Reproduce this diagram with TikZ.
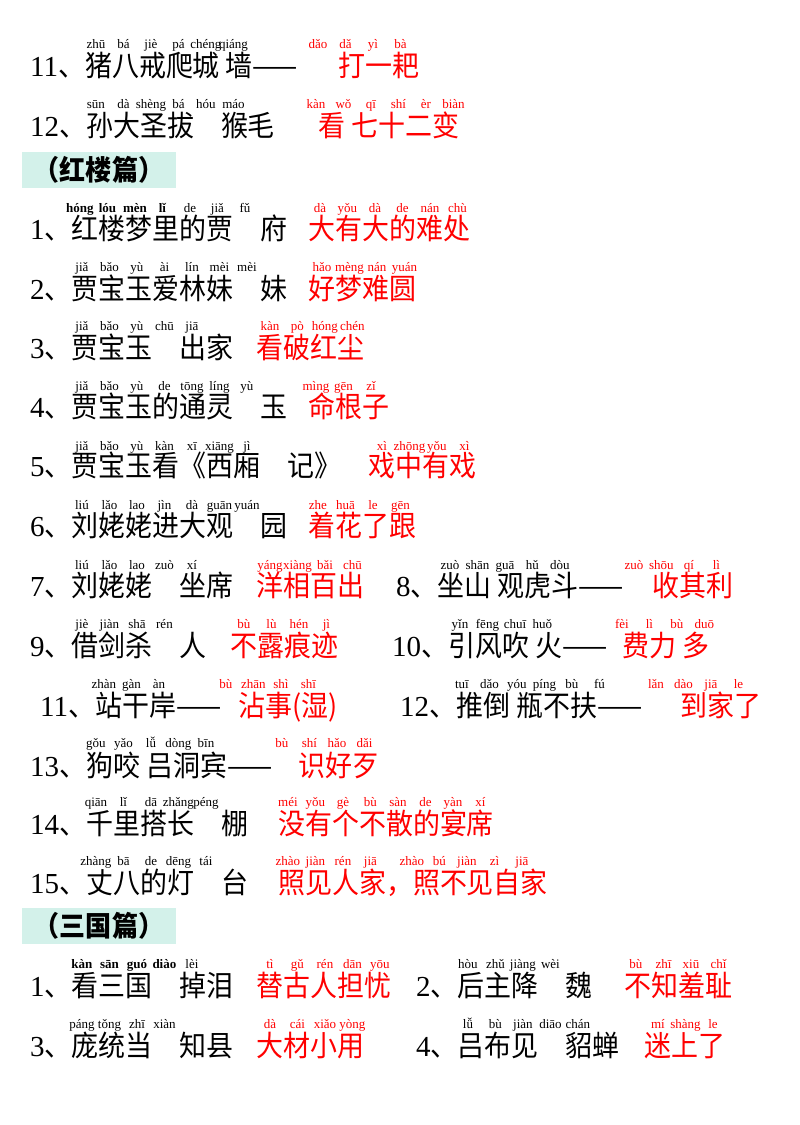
\documentclass[tikz,border=0pt]{standalone}
\usepackage{fontspec}
\setmainfont{Liberation Serif}
\newfontfamily\cjk[FakeStretch=0.93]{Noto Sans CJK SC}
\definecolor{rd}{HTML}{FF0000}
\definecolor{hd}{HTML}{D3F1EA}
\def\pyl#1{\pyloop#1 \relax}
\def\pyloop#1 #2\relax{\makebox[27.5pt]{#1}\ifx\relax#2\relax\else\pyloop#2\relax\fi}
\newcommand\nn[1]{{\rmfamily #1}}
\tikzset{
 blk/.style={anchor=base west,inner sep=0pt,font=\cjk\fontsize{29}{29}\selectfont},
 rblk/.style={blk,text=rd},
 py/.style={anchor=base west,inner sep=0pt,font=\rmfamily\fontsize{13}{13}\selectfont},
 rpy/.style={py,text=rd},
 hdr/.style={fill=hd,inner sep=0pt,minimum width=154pt,minimum height=36pt,font=\cjk\bfseries\fontsize{28}{28}\selectfont}
}
\begin{document}
\begin{tikzpicture}[x=1pt,y=-1pt]
\useasboundingbox (0,0) rectangle (800,1125);
% row 1
\node[blk] (a1) at (30,76) {\nn{11}、猪八戒爬城 墙——};
\node[py] (a1p) at (82,48) {\pyl{zhū bá jiè pá chéng qiáng}};
\node[rblk] (a1r) at (338,76) {打一耙};
\node[rpy] (a1rp) at (304,48) {\pyl{dǎo dǎ yì bà}};
% row 2
\node[blk] (a2) at (30,136) {\nn{12}、孙大圣拔　猴毛};
\node[py] (a2p) at (82,108) {\pyl{sūn dà shèng bá hóu máo}};
\node[rblk] (a2r) at (318,136) {看 七十二变};
\node[rpy] (a2rp) at (302,108) {\pyl{kàn wǒ qī shí èr biàn}};
% header
\node[hdr] (h1) at (99,170) {（红楼篇）};
% hl 1
\node[blk] (b1) at (30,239) {\nn{1}、红楼梦里的贾　府};
\node[py] (b1p) at (66,212) {\bfseries\pyl{hóng lóu mèn lǐ}\mdseries\pyl{de jiǎ fǔ}};
\node[rblk] (b1r) at (308,239) {大有大的难处};
\node[rpy] (b1rp) at (306,212) {\pyl{dà yǒu dà de nán chù}};
\node[blk] (b2) at (30,299) {\nn{2}、贾宝玉爱林妹　妹};
\node[py] (b2p) at (68,271) {\pyl{jiǎ bǎo yù ài lín mèi mèi}};
\node[rblk] (b2r) at (308,299) {好梦难圆};
\node[rpy] (b2rp) at (308,271) {\pyl{hǎo mèng nán yuán}};
\node[blk] (b3) at (30,358) {\nn{3}、贾宝玉　出家};
\node[py] (b3p) at (68,330) {\pyl{jiǎ bǎo yù chū jiā}};
\node[rblk] (b3r) at (256,358) {看破红尘};
\node[rpy] (b3rp) at (256,330) {\pyl{kàn pò hóng chén}};
\node[blk] (b4) at (30,417) {\nn{4}、贾宝玉的通灵　玉};
\node[py] (b4p) at (68,390) {\pyl{jiǎ bǎo yù de tōng líng yù}};
\node[rblk] (b4r) at (308,417) {命根子};
\node[rpy] (b4rp) at (302,390) {\pyl{mìng gēn zǐ}};
\node[blk] (b5) at (30,476) {\nn{5}、贾宝玉看《西厢　记》};
\node[py] (b5p) at (68,450) {\pyl{jiǎ bǎo yù kàn xī xiāng jì}};
\node[rblk] (b5r) at (368,476) {戏中有戏};
\node[rpy] (b5rp) at (368,450) {\pyl{xì zhōng yǒu xì}};
\node[blk] (b6) at (30,536) {\nn{6}、刘姥姥进大观　园};
\node[py] (b6p) at (68,509) {\pyl{liú lǎo lao jìn dà guān yuán}};
\node[rblk] (b6r) at (308,536) {着花了跟};
\node[rpy] (b6rp) at (304,509) {\pyl{zhe huā le gēn}};
\node[blk] (b7) at (30,596) {\nn{7}、刘姥姥　坐席};
\node[py] (b7p) at (68,569) {\pyl{liú lǎo lao zuò xí}};
\node[rblk] (b7r) at (256,596) {洋相百出};
\node[rpy] (b7rp) at (256,569) {\pyl{yáng xiàng bǎi chū}};
\node[blk] (b8) at (396,596) {\nn{8}、坐山 观虎斗——};
\node[py] (b8p) at (436,569) {\pyl{zuò shān guā hǔ dòu}};
\node[rblk] (b8r) at (652,596) {收其利};
\node[rpy] (b8rp) at (620,569) {\pyl{zuò shōu qí lì}};
\node[blk] (b9) at (30,656) {\nn{9}、借剑杀　人};
\node[py] (b9p) at (68,628) {\pyl{jiè jiàn shā rén}};
\node[rblk] (b9r) at (230,656) {不露痕迹};
\node[rpy] (b9rp) at (230,628) {\pyl{bù lù hén jì}};
\node[blk] (b10) at (392,656) {\nn{10}、引风吹 火——};
\node[py] (b10p) at (446,628) {\pyl{yǐn fēng chuī huǒ}};
\node[rblk] (b10r) at (622,656) {费力 多};
\node[rpy] (b10rp) at (608,628) {\pyl{fèi lì bù duō}};
\node[blk] (b11) at (40,716) {\nn{11}、站干岸——};
\node[py] (b11p) at (90,688) {\pyl{zhàn gàn àn}};
\node[rblk] (b11r) at (238,716) {沾事(湿)};
\node[rpy] (b11rp) at (212,688) {\pyl{bù zhān shì shī}};
\node[blk] (b12) at (400,716) {\nn{12}、推倒 瓶不扶——};
\node[py] (b12p) at (448,688) {\pyl{tuī dǎo yóu píng bù fú}};
\node[rblk] (b12r) at (680,716) {到家了};
\node[rpy] (b12rp) at (642,688) {\pyl{lǎn dào jiā le}};
\node[blk] (b13) at (30,776) {\nn{13}、狗咬 吕洞宾——};
\node[py] (b13p) at (82,747) {\pyl{gǒu yǎo lǚ dòng bīn}};
\node[rblk] (b13r) at (298,776) {识好歹};
\node[rpy] (b13rp) at (268,747) {\pyl{bù shí hǎo dǎi}};
\node[blk] (b14) at (30,834) {\nn{14}、千里搭长　棚};
\node[py] (b14p) at (82,806) {\pyl{qiān lǐ dā zhǎng péng}};
\node[rblk] (b14r) at (278,834) {没有个不散的宴席};
\node[rpy] (b14rp) at (274,806) {\pyl{méi yǒu gè bù sàn de yàn xí}};
\node[blk] (b15) at (30,893) {\nn{15}、丈八的灯　台};
\node[py] (b15p) at (82,865) {\pyl{zhàng bā de dēng tái}};
\node[rblk] (b15r) at (278,893) {照见人家，照不见自家};
\node[rpy] (b15rp) at (274,865) {\pyl{zhào jiàn rén jiā}\hspace{14pt}\pyl{zhào bú jiàn zì jiā}};
% header 2
\node[hdr] (h2) at (99,926) {（三国篇）};
\node[blk] (c1) at (30,996) {\nn{1}、看三国　掉泪};
\node[py] (c1p) at (68,968) {\bfseries\pyl{kàn sān guó diào}\mdseries\pyl{lèi}};
\node[rblk] (c1r) at (256,996) {替古人担忧};
\node[rpy] (c1rp) at (256,968) {\pyl{tì gǔ rén dān yōu}};
\node[blk] (c2) at (416,996) {\nn{2}、后主降　魏};
\node[py] (c2p) at (454,968) {\pyl{hòu zhǔ jiàng wèi}};
\node[rblk] (c2r) at (624,996) {不知羞耻};
\node[rpy] (c2rp) at (622,968) {\pyl{bù zhī xiū chǐ}};
\node[blk] (c3) at (30,1056) {\nn{3}、庞统当　知县};
\node[py] (c3p) at (68,1028) {\pyl{páng tǒng zhī xiàn}};
\node[rblk] (c3r) at (256,1056) {大材小用};
\node[rpy] (c3rp) at (256,1028) {\pyl{dà cái xiǎo yòng}};
\node[blk] (c4) at (416,1056) {\nn{4}、吕布见　貂蝉};
\node[py] (c4p) at (454,1028) {\pyl{lǚ bù jiàn diāo chán}};
\node[rblk] (c4r) at (644,1056) {迷上了};
\node[rpy] (c4rp) at (644,1028) {\pyl{mí shàng le}};
\end{tikzpicture}
\end{document}
